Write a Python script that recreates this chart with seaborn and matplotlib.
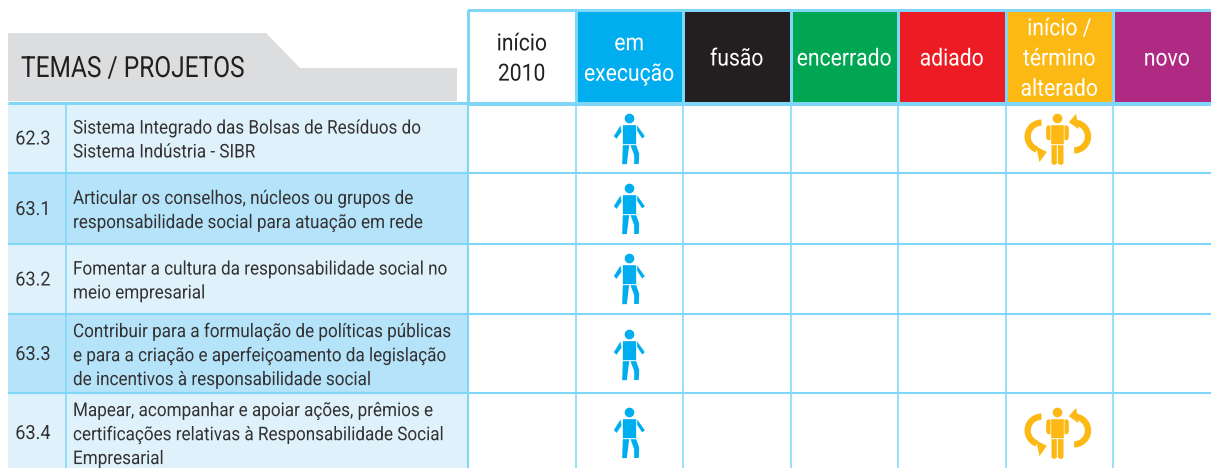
import numpy as np
import matplotlib
matplotlib.use("Agg")
import matplotlib.pyplot as plt
import seaborn as sns
from matplotlib.colors import ListedColormap
from matplotlib.patches import Polygon, Rectangle
from matplotlib.patheffects import AbstractPathEffect
from matplotlib.path import Path
from matplotlib.transforms import Affine2D

# table content
status_labels = ["início\n2010", "em\nexecução", "fusão", "encerrado", "adiado",
                 "início /\ntérmino\nalterado", "novo"]
status_colors = ["#FFFFFF", "#00AEEF", "#231F20", "#00A651", "#ED1C24", "#FDB913", "#AE2A83"]
label_colors = ["#231F20"] + ["#FFFFFF"] * 6
row_ids = ["62.3", "63.1", "63.2", "63.3", "63.4"]
row_texts = [
    "Sistema Integrado das Bolsas de Resíduos do\nSistema Indústria - SIBR",
    "Articular os conselhos, núcleos ou grupos de\nresponsabilidade social para atuação em rede",
    "Fomentar a cultura da responsabilidade social no\nmeio empresarial",
    "Contribuir para a formulação de políticas públicas\ne para a criação e aperfeiçoamento da legislação\nde incentivos à responsabilidade social",
    "Mapear, acompanhar e apoiar ações, prêmios e\ncertificações relativas à Responsabilidade Social\nEmpresarial",
]
row_fills = ["#DFF2FB", "#B5E3F9", "#DFF2FB", "#B5E3F9", "#DFF2FB"]
in_progress = [1, 1, 1, 1, 1]
dates_changed = [1, 0, 0, 0, 1]

# layout in pixels
W, H = 1211, 468
LINE = "#7FD6F7"
col_left, col_w = 468, 107.5
row_edges = [103, 173, 244, 314, 393, 480]
text_y = [140.5, 211, 281.5, 356, 435]
icon_y = [139, 209, 279, 355, 433]


class Squeeze(AbstractPathEffect):
    # no condensed face is installed, so narrow the glyphs around the anchor
    def __init__(self, pivot, sx):
        super().__init__()
        self.pivot, self.sx = pivot, sx

    def draw_path(self, renderer, gc, tpath, affine, rgbFace=None):
        t = affine + Affine2D().translate(-self.pivot, 0).scale(self.sx, 1).translate(self.pivot, 0)
        renderer.draw_path(gc, tpath, t, rgbFace)


def poly(pts, cx, cy):
    pts = [(x - cx, cy - y) for x, y in pts]
    # same winding everywhere so overlaps do not punch holes
    xs, ys = np.array(pts).T
    if np.sum(xs * np.roll(ys, -1) - np.roll(xs, -1) * ys) < 0:
        pts = pts[::-1]
    codes = [Path.MOVETO] + [Path.LINETO] * (len(pts) - 1) + [Path.CLOSEPOLY]
    return Path(pts + [pts[0]], codes)


def disc(cx, cy, r, c):
    t = np.radians(np.linspace(0, 360, 40, endpoint=False))
    return poly(list(zip(cx + r * np.cos(t), cy + r * np.sin(t))), *c)


def walker_marker():
    # traced in 3x zoom pixels
    c = (117, 118)
    parts = [
        disc(117, 55, 14.5, c),
        poly([(97, 75), (137, 75), (137, 132), (97, 132)], *c),
        poly([(90, 76), (70, 108), (78, 116), (93, 95)], *c),
        poly([(140, 76), (163, 108), (155, 115), (140, 92)], *c),
        poly([(97, 135), (116, 135), (109, 192), (95, 192)], *c),
        poly([(120, 135), (137, 135), (146, 160), (145, 191), (131, 192), (131, 165)], *c),
    ]
    return Path.make_compound_path(*parts)


def arc(cx, cy, r0, r1, a0, a1):
    t = np.radians(np.linspace(a0, a1, 30))
    outer = [(cx + r1 * np.cos(a), cy - r1 * np.sin(a)) for a in t]
    inner = [(cx + r0 * np.cos(a), cy - r0 * np.sin(a)) for a in t[::-1]]
    return outer + inner


def turning_marker():
    c = (174, 118)
    parts = [
        disc(174, 55, 14.5, c),
        poly([(155, 75), (193, 75), (193, 132), (155, 132)], *c),
        poly([(144, 76), (153, 76), (153, 120), (144, 120), (140, 112), (140, 82)], *c),
        poly([(195, 76), (204, 76), (208, 82), (208, 112), (204, 120), (195, 120)], *c),
        poly([(156, 135), (172, 135), (172, 190), (164, 195), (156, 190)], *c),
        poly([(175, 135), (192, 135), (192, 190), (184, 195), (175, 190)], *c),
        poly(arc(126, 109, 32, 51, 90, 250), *c),
        poly([(142, 155), (120, 186), (110, 139)], *c),
        poly(arc(224, 109, 32, 51, -90, 82), *c),
        poly([(208, 66), (230, 41), (237, 87)], *c),
    ]
    return Path.make_compound_path(*parts)


sns.set_theme(style="white")
plt.rcParams["font.family"] = ["Roboto", "DejaVu Sans"]

fig = plt.figure(figsize=(W / 100, H / 100), dpi=100)
ax = fig.add_axes([0, 0, 1, 1])
ax.set_xlim(0, W)
ax.set_ylim(H, 0)
ax.axis("off")
ax.set_zorder(3)

# grey title tab
ax.add_patch(Polygon([(8, 33), (266, 33), (300, 68), (457, 68), (457, 101), (8, 101)],
                     closed=True, fc="#DCDDDE", ec="none", zorder=1))
ax.text(21, 69, "TEMAS / PROJETOS", fontsize=21, color="#231F20", va="center", ha="left",
        path_effects=[Squeeze(21, 0.84)])

# rows
for i in range(len(row_ids)):
    top, bot = row_edges[i], row_edges[i + 1]
    ax.add_patch(Rectangle((8, top), col_left - 8, bot - top, fc=row_fills[i], ec="none", zorder=1))
    ax.text(33, text_y[i] - 1, row_ids[i], fontsize=14, color="#333132", ha="center", va="center",
            zorder=4, path_effects=[Squeeze(33, 0.93)])
    ax.text(73, text_y[i], row_texts[i], fontsize=13.6, color="#333132", ha="left", va="center",
            linespacing=1.42, zorder=4, path_effects=[Squeeze(73, 0.905)])

for y in row_edges[:-1]:
    ax.plot([8, W], [y, y], color=LINE, lw=1.5 if y > 103 else 2.2, zorder=3, solid_capstyle="butt")
ax.plot([65.5, 65.5], [103, H], color=LINE, lw=1.1, zorder=3)
for j in range(8):
    x = col_left + j * col_w
    ax.plot([x, x], [103, H], color=LINE, lw=1.5 if j == 0 else 1.1, zorder=3)

# status header through a heatmap, one row of seven coloured cells
ax_head = fig.add_axes([col_left / W, 1 - 103.5 / H, 7 * col_w / W, (103.5 - 10) / H])
sns.heatmap(np.arange(7).reshape(1, 7), cmap=ListedColormap(status_colors), cbar=False,
            linewidths=1.8, linecolor=LINE, xticklabels=False, yticklabels=False, ax=ax_head)
for coll in ax_head.collections:
    coll.set_clip_on(False)
for j, lab in enumerate(status_labels):
    xc = col_left + (j + 0.5) * col_w
    ax.text(xc, 59, lab, fontsize=17, color=label_colors[j], ha="center", va="center",
            linespacing=1.4, zorder=5, path_effects=[Squeeze(xc, 0.895)])

# status marks
col_x = [col_left + (j + 0.5) * col_w for j in range(7)]
walk_x = [col_x[1] for f in in_progress if f]
walk_y = [y for y, f in zip(icon_y, in_progress) if f]
turn_x = [col_x[5] - 2 for f in dates_changed if f]
turn_y = [y for y, f in zip(icon_y, dates_changed) if f]

# marker scale: path is 3x pixels, custom markers normalise to the largest coordinate
m_walk = walker_marker()
m_turn = turning_marker()
px = 0.72
s_walk = (2 * np.abs(m_walk.vertices).max() / 3 * px) ** 2
s_turn = (2 * np.abs(m_turn.vertices).max() / 3 * px) ** 2
sns.scatterplot(x=walk_x, y=walk_y, marker=m_walk, s=s_walk, color="#00AEEF", linewidth=0, ax=ax, zorder=6)
sns.scatterplot(x=turn_x, y=turn_y, marker=m_turn, s=s_turn, color="#FDB913", linewidth=0, ax=ax, zorder=6)
ax.set_xlim(0, W)
ax.set_ylim(H, 0)

fig.savefig("out.png", dpi=100)
